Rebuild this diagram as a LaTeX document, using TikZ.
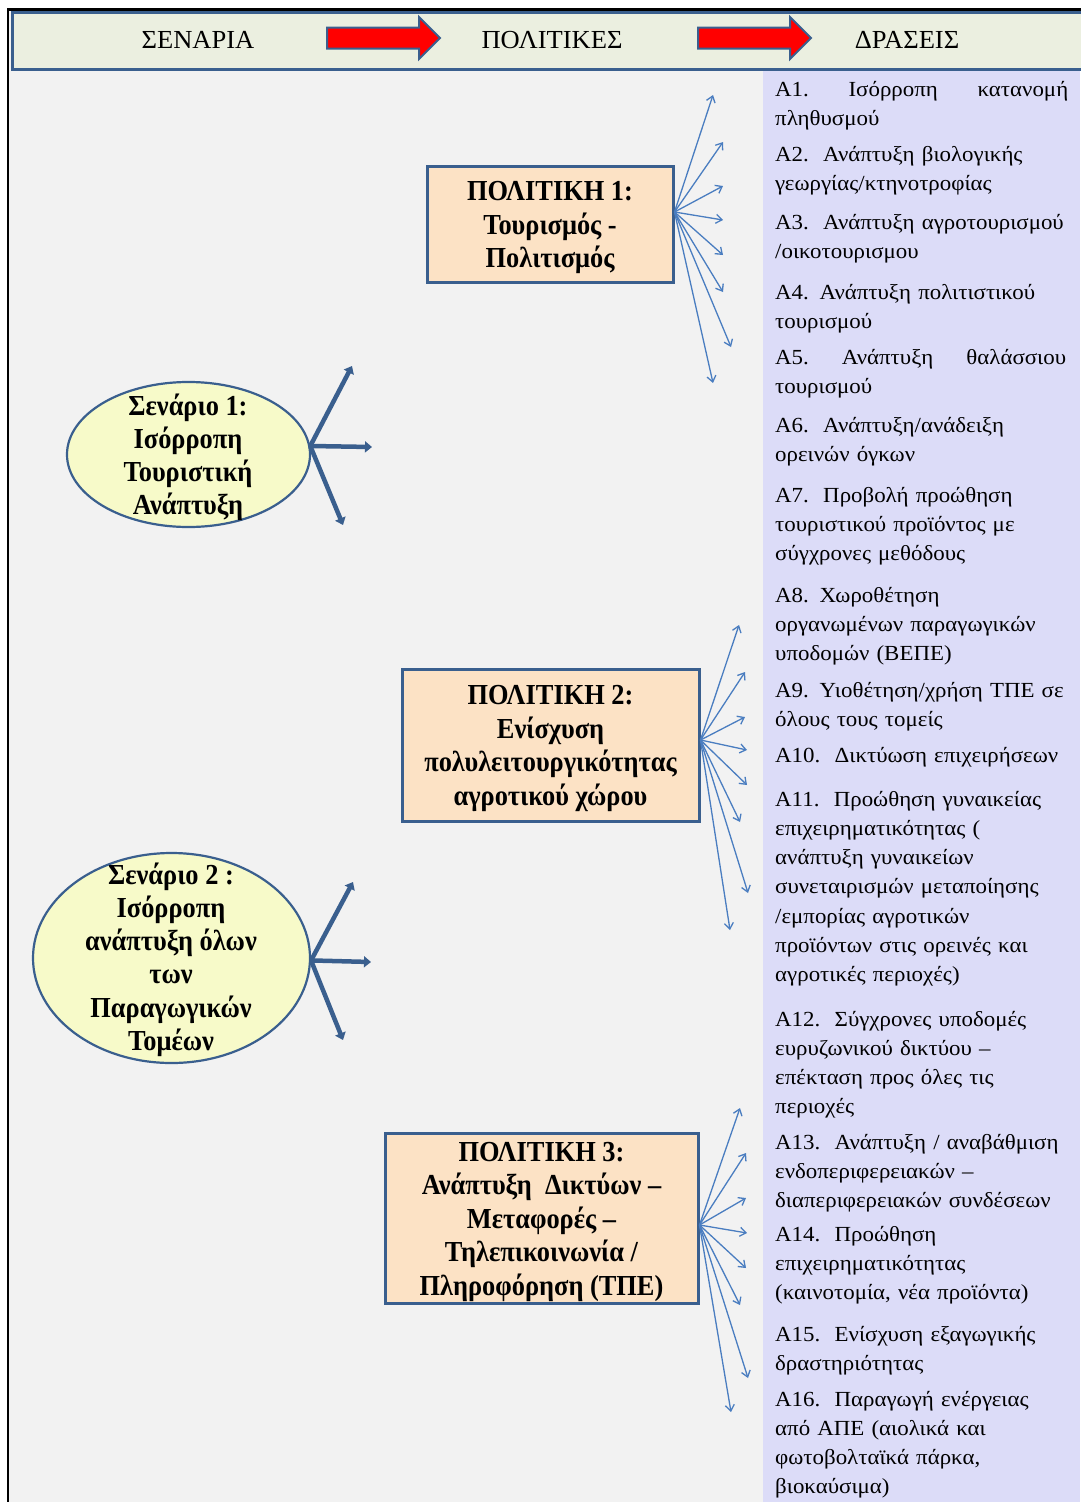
\documentclass[tikz,border=0pt]{standalone}
\usepackage{fontspec}
\setmainfont{Liberation Serif}
\newfontfamily\hdrfont[FakeStretch=1.02]{Liberation Serif}
\newfontfamily\boxfont[FakeStretch=0.91]{Liberation Serif}
\newfontfamily\itemfont[FakeStretch=1.065]{Liberation Serif}
\usetikzlibrary{shapes.geometric,shapes.arrows,arrows.meta,calc}
\definecolor{boxblue}{HTML}{3A5F8E}
\definecolor{hdrfill}{HTML}{EBEFE0}
\definecolor{peach}{HTML}{FCE2C5}
\definecolor{ellfill}{HTML}{F7FAC9}
\definecolor{lav}{HTML}{DCDCF8}
\definecolor{bggray}{HTML}{F2F2F2}
\definecolor{fanblue}{HTML}{4A7DC0}
\definecolor{arrred}{HTML}{FF0000}
\begin{document}
\begin{tikzpicture}[x=1pt,y=-1pt,
  hdrtxt/.style={anchor=base, inner sep=0pt, font=\hdrfont\fontsize{26}{30}\selectfont},
  redarrow/.style={single arrow, draw=boxblue, line width=2pt, fill=arrred, single arrow head extend=10.5pt, inner xsep=0pt, inner ysep=9.5pt, minimum height=113pt, anchor=tail},
  polbox/.style={rectangle, draw=boxblue, line width=3pt, fill=peach, inner sep=0pt, align=center, font=\boxfont\bfseries\fontsize{29}{33.5}\selectfont},
  scen/.style={ellipse, draw=boxblue, line width=2.2pt, fill=ellfill, inner sep=0pt},
  scentxt/.style={inner sep=0pt, align=center, font=\boxfont\bfseries\fontsize{29}{33.2}\selectfont},
  itemtxt/.style={anchor=north west, inner sep=0pt, text width=320pt, align=left, font=\itemfont\fontsize{21.5}{29.2}\selectfont},
  fan/.style={draw=fanblue, line width=1.3pt, -{Straight Barb[length=6pt,width=9pt]}},
  thickarr/.style={draw=boxblue, line width=4.5pt, -{Triangle[length=7pt,width=11pt]}}
]
\useasboundingbox (0,0) rectangle (1080,1502);
\fill[white] (0,0) rectangle (1080,1502);
\fill[bggray] (8,9.5) rectangle (1080,1502);
\draw[black, line width=2.5pt] (8,1502) -- (8,9.5) -- (1082,9.5);
\fill[lav] (763,71) rectangle (1080,1502);
% header bar
\draw[boxblue, line width=3pt, fill=hdrfill] (12.5,12.5) rectangle (1084,69.5);
\node[hdrtxt] (h1) at (198,48.5) {ΣΕΝΑΡΙΑ};
\node[hdrtxt] (h2) at (552,48.5) {ΠΟΛΙΤΙΚΕΣ};
\node[hdrtxt] (h3) at (907,48.5) {ΔΡΑΣΕΙΣ};
\node[redarrow] (ra1) at (326,38) {};
\node[redarrow] (ra2) at (697,38) {};
% policies
\node[polbox, minimum width=246pt, minimum height=116pt] (p1) at (550,224) {\rule{0pt}{26.5pt}ΠΟΛΙΤΙΚΗ 1:\\Τουρισμός -\\Πολιτισμός};
\node[polbox, minimum width=297pt, minimum height=152pt] (p2) at (550.5,745) {\rule{0pt}{26.5pt}ΠΟΛΙΤΙΚΗ 2:\\Ενίσχυση\\πολυλειτουργικότητας\\αγροτικού χώρου};
\node[polbox, minimum width=313pt, minimum height=170pt] (p3) at (541.5,1218) {\rule{0pt}{27pt}ΠΟΛΙΤΙΚΗ 3:\\Ανάπτυξη\ \ Δικτύων –\\Μεταφορές –\\Τηλεπικοινωνία /\\Πληροφόρηση (ΤΠΕ)};
% scenarios
\node[scen, minimum width=243pt, minimum height=145pt] (s1) at (188.5,454.5) {};
\node[scentxt] (s1t) at (188,457.5) {Σενάριο 1:\\Ισόρροπη\\Τουριστική\\Ανάπτυξη};
\node[scen, minimum width=277pt, minimum height=210pt] (s2) at (171.5,958) {};
\node[scentxt] (s2t) at (171,959.5) {Σενάριο 2 :\\Ισόρροπη\\ανάπτυξη όλων\\των\\Παραγωγικών\\Τομέων};
% thick arrows
\coordinate (s1a) at (352,366);
\coordinate (s1b) at (372,447);
\coordinate (s1c) at (343,525);
\foreach \e in {s1a,s1b,s1c} \draw[thickarr] (s1.4) -- (\e);
\coordinate (s2a) at (353,882);
\coordinate (s2b) at (371,962);
\coordinate (s2c) at (343,1040);
\foreach \e in {s2a,s2b,s2c} \draw[thickarr] (s2.-1.5) -- (\e);
% fans
\coordinate (p1o) at ($(p1.east)+(0,-12)$);
\foreach \x/\y [count=\i] in {713/95,723/142,723/186,723/220,723/255,723/292,731/347,713/383}{
  \coordinate (p1e\i) at (\x,\y);
  \draw[fan] (p1o) -- (p1e\i);
}
\coordinate (p2o) at ($(p2.east)+(0,-5)$);
\foreach \x/\y [count=\i] in {739/625,745/672,745/717,747/750,747/785,740/822,748/893,730/930}{
  \coordinate (p2e\i) at (\x,\y);
  \draw[fan] (p2o) -- (p2e\i);
}
\coordinate (p3o) at ($(p3.east)+(0,7)$);
\foreach \x/\y [count=\i] in {740/1108,746/1153,746/1198,747/1233,746/1268,740/1305,748/1378,731/1412}{
  \coordinate (p3e\i) at (\x,\y);
  \draw[fan] (p3o) -- (p3e\i);
}
% actions
\node[itemtxt] (a1) at (775,76) {\rule{0pt}{20pt}\makebox[293pt][l]{A1.\hfill Ισόρροπη\hfill κατανομή}\\πληθυσμού};
\node[itemtxt] (a2) at (775,141) {\rule{0pt}{20pt}A2.\ \ Ανάπτυξη βιολογικής\\γεωργίας/κτηνοτροφίας};
\node[itemtxt] (a3) at (775,209) {\rule{0pt}{20pt}A3.\ \ Ανάπτυξη αγροτουρισμού\\/οικοτουρισμου};
\node[itemtxt] (a4) at (775,279) {\rule{0pt}{20pt}A4. Ανάπτυξη πολιτιστικού\\τουρισμού};
\node[itemtxt] (a5) at (775,344) {\rule{0pt}{20pt}\makebox[291pt][l]{A5.\hfill Ανάπτυξη\hfill θαλάσσιου}\\τουρισμού};
\node[itemtxt] (a6) at (775,412) {\rule{0pt}{20pt}A6.\ \ Ανάπτυξη/ανάδειξη\\ορεινών όγκων};
\node[itemtxt] (a7) at (775,482) {\rule{0pt}{20pt}A7.\ \ Προβολή προώθηση\\τουριστικού προϊόντος με\\σύγχρονες μεθόδους};
\node[itemtxt] (a8) at (775,582) {\rule{0pt}{20pt}A8. Χωροθέτηση\\οργανωμένων παραγωγικών\\υποδομών (ΒΕΠΕ)};
\node[itemtxt] (a9) at (775,677) {\rule{0pt}{20pt}A9. Υιοθέτηση/χρήση ΤΠΕ σε\\όλους τους τομείς};
\node[itemtxt] (a10) at (775,742) {\rule{0pt}{20pt}A10.\ \ Δικτύωση επιχειρήσεων};
\node[itemtxt] (a11) at (775,786) {\rule{0pt}{20pt}A11.\ \ Προώθηση γυναικείας\\επιχειρηματικότητας (\\ανάπτυξη γυναικείων\\συνεταιρισμών μεταποίησης\\/εμπορίας αγροτικών\\προϊόντων στις ορεινές και\\αγροτικές περιοχές)};
\node[itemtxt] (a12) at (775,1006) {\rule{0pt}{20pt}A12.\ \ Σύγχρονες υποδομές\\ευρυζωνικού δικτύου –\\επέκταση προς όλες τις\\περιοχές};
\node[itemtxt] (a13) at (775,1129) {\rule{0pt}{20pt}A13.\ \ Ανάπτυξη / αναβάθμιση\\ενδοπεριφερειακών –\\διαπεριφερειακών συνδέσεων};
\node[itemtxt] (a14) at (775,1221) {\rule{0pt}{20pt}A14.\ \ Προώθηση\\επιχειρηματικότητας\\(καινοτομία, νέα προϊόντα)};
\node[itemtxt] (a15) at (775,1321) {\rule{0pt}{20pt}A15.\ \ Ενίσχυση εξαγωγικής\\δραστηριότητας};
\node[itemtxt] (a16) at (775,1386) {\rule{0pt}{20pt}A16.\ \ Παραγωγή ενέργειας\\από ΑΠΕ (αιολικά και\\φωτοβολταϊκά πάρκα,\\βιοκαύσιμα)};
\end{tikzpicture}
\end{document}
